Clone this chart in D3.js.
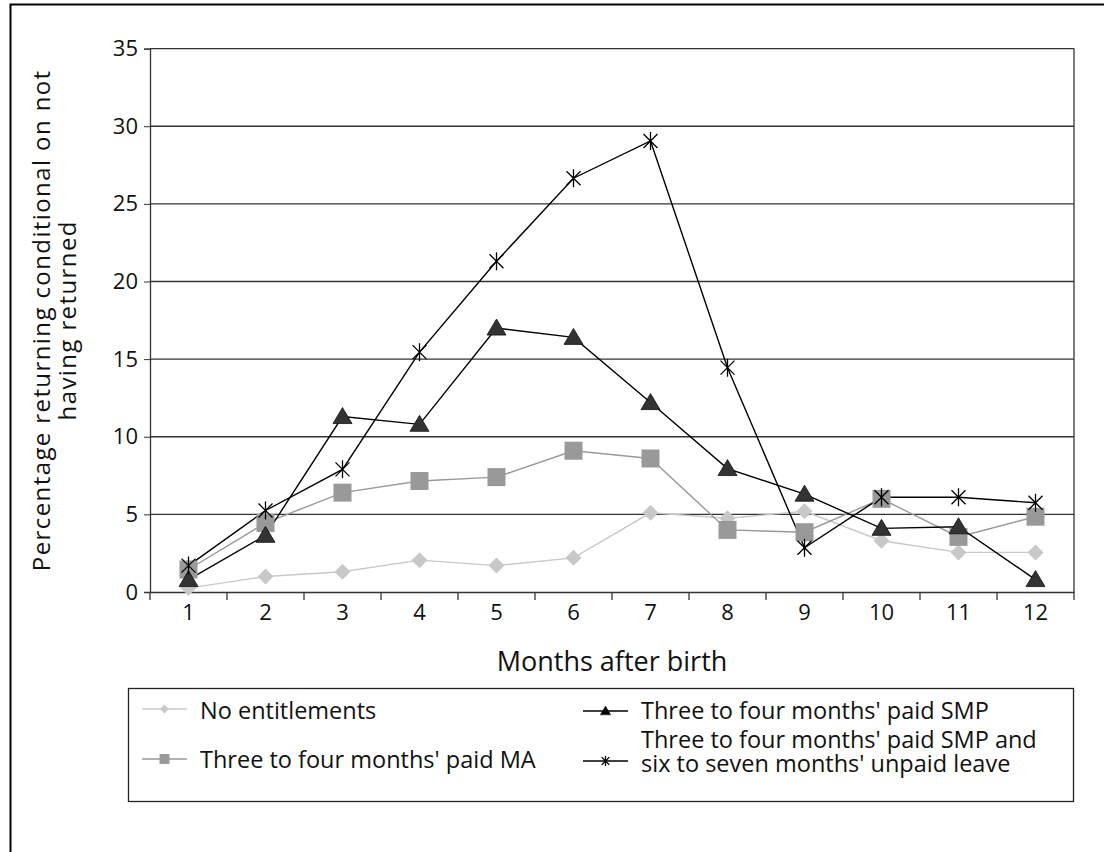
<!DOCTYPE html>
<html><head><meta charset="utf-8">
<script src="https://cdn.jsdelivr.net/npm/d3@7"></script>
<style>body{margin:0;background:#fff}svg{display:block}text{font-family:"Open Sans",sans-serif}</style>
</head><body><svg id="c" width="1104" height="852"></svg>
<script>
const months = ["1","2","3","4","5","6","7","8","9","10","11","12"];
const yTicks = [0,5,10,15,20,25,30,35];
const noEnt = [0.25,1.0,1.3,2.05,1.7,2.2,5.1,4.75,5.2,3.3,2.55,2.55];
const paidMA = [1.45,4.45,6.4,7.15,7.4,9.1,8.6,4.0,3.85,6.0,3.55,4.85];
const paidSMP = [0.8,3.65,11.3,10.8,17.0,16.4,12.2,7.95,6.3,4.1,4.2,0.8];
const smpUnpaid = [1.7,5.25,7.9,15.45,21.3,26.65,29.05,14.45,2.85,6.1,6.1,5.75];
const seriesNames = ["No entitlements","Three to four months' paid MA","Three to four months' paid SMP","Three to four months' paid SMP and\nsix to seven months' unpaid leave"];

const svg = d3.select("#c");
svg.append("rect").attr("x",10.5).attr("y",4.5).attr("width",1110).attr("height",870).attr("fill","none").attr("stroke","#000").attr("stroke-width",2);

const L=150,R=1074,T=48.6,B=592;
const x = d3.scaleBand().domain(months).range([L,R]);
const y = d3.scaleLinear().domain([0,35]).range([B,T]);

svg.append("g").selectAll("line").data(yTicks.filter(d=>d>0)).join("line")
 .attr("x1",L).attr("x2",R).attr("y1",d=>y(d)).attr("y2",d=>y(d)).attr("stroke","#333").attr("stroke-width",1.3);
svg.append("line").attr("x1",R).attr("x2",R).attr("y1",T).attr("y2",B).attr("stroke","#333").attr("stroke-width",1.3);

const yAx = svg.append("g").attr("transform",`translate(${L},0)`).call(d3.axisLeft(y).tickValues(yTicks).tickSize(6).tickPadding(6));
yAx.select(".domain").attr("stroke","#333").attr("stroke-width",1.3);
yAx.selectAll(".tick line").attr("stroke","#333");
yAx.selectAll("text").style("font-family",'"Open Sans",sans-serif').style("font-size","22px").attr("fill","#111");

const xAx = svg.append("g").attr("transform",`translate(0,${B})`).call(d3.axisBottom(x).tickSize(0).tickPadding(12));
xAx.select(".domain").attr("stroke","#333").attr("stroke-width",1.3);
xAx.selectAll("text").style("font-family",'"Open Sans",sans-serif').style("font-size","22px").attr("fill","#111");
xAx.selectAll(".bt").data(d3.range(13)).join("line").attr("x1",i=>L+i*x.step()).attr("x2",i=>L+i*x.step()).attr("y1",0).attr("y2",8).attr("stroke","#333").attr("stroke-width",1.3);

const cx = d=>x(d)+x.bandwidth()/2;
const line = d3.line().x((d,i)=>cx(months[i])).y(d=>y(d));

const styles = [
 {data:noEnt, color:"#c8c8c8", sym:"diamond"},
 {data:paidMA, color:"#999999", sym:"square"},
 {data:paidSMP, color:"#000", sym:"triangle"},
 {data:smpUnpaid, color:"#000", sym:"star"}
];
function drawMarker(g,sym,size){
 if(sym==="diamond"){g.append("path").attr("d","M0,-8L8,0L0,8L-8,0Z").attr("transform",`scale(${size})`).attr("fill","#c8c8c8");}
 else if(sym==="square"){g.append("rect").attr("x",-9*size).attr("y",-9*size).attr("width",18*size).attr("height",18*size).attr("fill","#999");}
 else if(sym==="triangle"){g.append("path").attr("d","M0,-9L9.5,7L-9.5,7Z").attr("transform",`scale(${size})`).attr("fill",size<1?"#000":"#333").attr("stroke","#111").attr("stroke-width",0.8);}
 else {g.append("path").attr("d","M-7,-7L7,7M-7,7L7,-7M0,-9V9").attr("transform",`scale(${size})`).attr("stroke","#000").attr("stroke-width",1.3/size).attr("fill","none");}
}
styles.forEach(s=>{
 svg.append("path").datum(s.data).attr("d",line).attr("fill","none").attr("stroke",s.color).attr("stroke-width",1.4);
});
styles.forEach(s=>{
 s.data.forEach((v,i)=>{const g=svg.append("g").attr("transform",`translate(${cx(months[i])},${y(v)})`);drawMarker(g,s.sym,1);});
});

svg.append("text").attr("x",(L+R)/2).attr("y",671).attr("text-anchor","middle").attr("font-size",27).attr("fill","#111").text("Months after birth");
const yt = svg.append("text").attr("transform",`translate(50,${(T+B)/2}) rotate(-90)`).attr("text-anchor","middle").attr("font-size",24).attr("letter-spacing",1.4).attr("fill","#111");
yt.append("tspan").attr("x",0).attr("dy",0).text("Percentage returning conditional on not");
yt.append("tspan").attr("x",0).attr("dy",26).text("having returned");

svg.append("rect").attr("x",128.5).attr("y",688.5).attr("width",945).attr("height",113).attr("fill","none").attr("stroke","#222").attr("stroke-width",1.3);
const legPos = [{x:142,y:709,ty:[719]},{x:142,y:759,ty:[768]},{x:583,y:711,ty:[719]},{x:583,y:761,ty:[748,772]}];
styles.forEach((s,i)=>{
 const p=legPos[i];
 svg.append("line").attr("x1",p.x).attr("x2",p.x+45).attr("y1",p.y).attr("y2",p.y).attr("stroke",s.color).attr("stroke-width",1.3);
 const g=svg.append("g").attr("transform",`translate(${p.x+22.5},${p.y})`);drawMarker(g,s.sym,0.55);
 const lines=seriesNames[i].split("\n");
 const t=svg.append("text").attr("x",p.x+58).attr("y",p.ty[0]).attr("font-size",23.5).attr("fill","#111");
 lines.forEach((s2,j)=>t.append("tspan").attr("x",p.x+58).attr("y",p.ty[j]).text(s2));
});
</script></body></html>
